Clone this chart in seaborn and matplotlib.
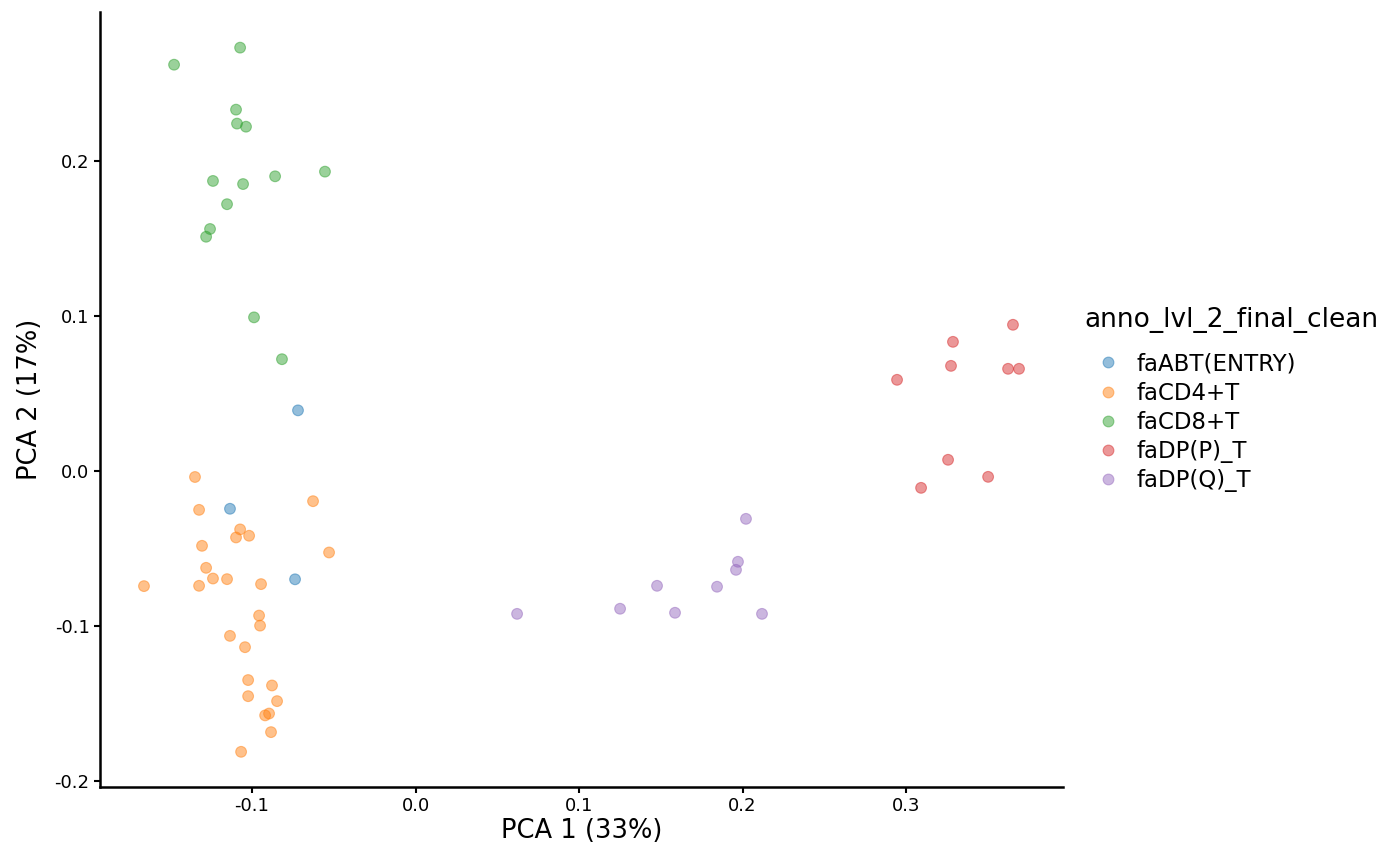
import numpy as np
import pandas as pd
import matplotlib.pyplot as plt
import seaborn as sns

sns.set_style("ticks")
plt.rcParams['font.family'] = ['DejaVu Sans']
plt.rcParams['text.color'] = 'black'
plt.rcParams['axes.labelcolor'] = 'black'
plt.rcParams['xtick.color'] = 'black'
plt.rcParams['ytick.color'] = 'black'
plt.rcParams['axes.edgecolor'] = 'black'

# PCA coordinates, one list per cell type
abt_x = [-0.0719, -0.1135, -0.0737]
abt_y = [0.039, -0.0245, -0.070]

cd4_x = [-0.1349, -0.1324, -0.0627, -0.0529, -0.1073, -0.1098, -0.1018, -0.1306,
         -0.1281, -0.1239, -0.1153, -0.1661, -0.1324, -0.0945, -0.0957, -0.0951,
         -0.1135, -0.1043, -0.1024, -0.1024, -0.0878, -0.0847, -0.0920, -0.0896,
         -0.0884, -0.1067]
cd4_y = [-0.004, -0.0252, -0.0196, -0.0527, -0.0378, -0.0430, -0.0419, -0.0484,
         -0.0626, -0.0695, -0.0699, -0.0744, -0.0742, -0.0731, -0.0934, -0.0999,
         -0.1065, -0.1138, -0.1350, -0.1454, -0.1385, -0.1486, -0.1578, -0.1566,
         -0.1686, -0.1813]

cd8_x = [-0.1477, -0.1073, -0.1098, -0.1092, -0.1037, -0.1239, -0.1055, -0.0859,
         -0.0554, -0.1153, -0.1257, -0.1281, -0.0988, -0.0817]
cd8_y = [0.262, 0.273, 0.233, 0.224, 0.222, 0.187, 0.185, 0.190,
         0.193, 0.172, 0.156, 0.151, 0.099, 0.072]

dpp_x = [0.2945, 0.3287, 0.3275, 0.3654, 0.3624, 0.3691, 0.3257, 0.3092, 0.3502]
dpp_y = [0.0587, 0.0832, 0.0677, 0.0942, 0.0658, 0.0658, 0.0071, -0.011, -0.0039]

dpq_x = [0.0621, 0.1251, 0.1477, 0.1587, 0.1844, 0.1972, 0.1960, 0.2021, 0.2119]
dpq_y = [-0.0923, -0.089, -0.0742, -0.0916, -0.0748, -0.0587, -0.0639, -0.031, -0.0923]

groups = ["faABT(ENTRY)", "faCD4+T", "faCD8+T", "faDP(P)_T", "faDP(Q)_T"]
xs = [abt_x, cd4_x, cd8_x, dpp_x, dpq_x]
ys = [abt_y, cd4_y, cd8_y, dpp_y, dpq_y]

df = pd.concat([pd.DataFrame({"PC1": x, "PC2": y, "anno_lvl_2_final_clean": g})
                for g, x, y in zip(groups, xs, ys)], ignore_index=True)

fig = plt.figure(figsize=(14, 8.65), dpi=100)
ax = fig.add_axes([100/1400, 1 - 787/865, 963/1400, 775/865])

sns.scatterplot(data=df, x="PC1", y="PC2", hue="anno_lvl_2_final_clean",
                hue_order=groups, palette="tab10", alpha=0.48, s=60,
                edgecolor="face", linewidth=0.8, ax=ax)

ax.set_xlim(-0.193, 0.396)
ax.set_ylim(-0.204, 0.296)
ax.set_xticks([-0.1, 0.0, 0.1, 0.2, 0.3])
ax.set_yticks([-0.2, -0.1, 0.0, 0.1, 0.2])
ax.set_xticklabels(["-0.1", "0.0", "0.1", "0.2", "0.3"])
ax.set_yticklabels(["-0.2", "-0.1", "0.0", "0.1", "0.2"])
ax.tick_params(labelsize=13, width=1.5, length=4)
for sp in ["left", "bottom"]:
    ax.spines[sp].set_linewidth(1.8)
sns.despine(ax=ax)
ax.set_xlabel("PCA 1 (33%)", fontsize=18.5, labelpad=2)
ax.set_ylabel("PCA 2 (17%)", fontsize=18.5, labelpad=8)

leg = ax.legend(title="anno_lvl_2_final_clean", loc="center left",
                bbox_to_anchor=(1.013, 0.5), frameon=False, fontsize=16.5,
                title_fontsize=19, markerscale=1.0, handletextpad=0.25,
                labelspacing=0.27, alignment="left", borderaxespad=0)
leg._legend_box.sep = 14

fig.savefig("out.png", dpi=100)
